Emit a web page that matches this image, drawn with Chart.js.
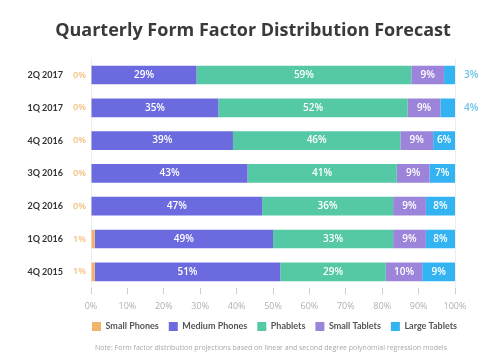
<!DOCTYPE html>
<html>
<head>
<meta charset="utf-8">
<script src="https://cdn.jsdelivr.net/npm/chart.js@4/dist/chart.umd.min.js"></script>
<style>
  html, body { margin: 0; padding: 0; background: #ffffff; }
  #wrap { width: 500px; height: 358px; position: relative; }
</style>
</head>
<body>
<div id="wrap"><canvas id="chart" width="500" height="358"></canvas></div>
<script>
// Quarter labels, top to bottom
const quarters = ['2Q 2017', '1Q 2017', '4Q 2016', '3Q 2016', '2Q 2016', '1Q 2016', '4Q 2015'];

// Share of each form factor (%)
const smallPhones  = [0, 0, 0, 0, 0, 1, 1];
const mediumPhones = [29, 35, 39, 43, 47, 49, 51];
const phablets     = [59, 52, 46, 41, 36, 33, 29];
const smallTablets = [9, 9, 9, 9, 9, 9, 10];
const largeTablets = [3, 4, 6, 7, 8, 8, 9];

const seriesNames = ['Small Phones', 'Medium Phones', 'Phablets', 'Small Tablets', 'Large Tablets'];
const xTicks = [0, 10, 20, 30, 40, 50, 60, 70, 80, 90, 100];

const colors = ['#f2b36a', '#6b6bdf', '#55c8a6', '#9c84db', '#33b3f2'];
const font = "'Open Sans', sans-serif";
const font2 = "Lato, sans-serif";

// draws the % labels on / next to each bar segment
const barLabels = {
    id: 'barLabels',
    afterDatasetsDraw(chart) {
        const ctx = chart.ctx;
        const area = chart.chartArea;
        ctx.save();
        ctx.textBaseline = 'middle';
        chart.data.datasets.forEach((ds, i) => {
            const meta = chart.getDatasetMeta(i);
            meta.data.forEach((bar, j) => {
                const txt = ds.data[j] + '%';
                if (i === 0) {
                    ctx.font = '600 9px ' + font;
                    ctx.fillStyle = '#f0c07c';
                    ctx.textAlign = 'right';
                    ctx.fillText(txt, area.left - 5, bar.y);
                    return;
                }
                const w = Math.abs(bar.x - bar.base);
                ctx.font = '600 10px ' + font;
                if (w < 18) {
                    ctx.fillStyle = '#6cc3e8';
                    ctx.textAlign = 'left';
                    ctx.fillText(txt, bar.x + 9, bar.y);
                } else {
                    ctx.fillStyle = '#ffffff';
                    ctx.textAlign = 'center';
                    ctx.fillText(txt, (bar.x + bar.base) / 2, bar.y);
                }
            });
        });
        ctx.restore();
    }
};

// title and legend sit right of the canvas centre in the original
const boxShift = {
    id: 'boxShift',
    afterLayout(chart) {
        const t = chart.titleBlock, l = chart.legend;
        t.left += 25.5; t.right += 25.5;
        l.left += 47; l.right += 47;
        l.top -= 7; l.bottom -= 7;
    }
};

// footnote under the legend
const footNote = {
    id: 'footNote',
    afterDraw(chart) {
        const ctx = chart.ctx;
        ctx.save();
        ctx.font = '7px ' + font;
        ctx.fillStyle = '#a8a8a8';
        ctx.textAlign = 'center';
        ctx.textBaseline = 'middle';
        ctx.fillText('Note: Form factor distribution projections based on linear and second degree polynomial regression models', 271, 348);
        ctx.restore();
    }
};

const datasets = [smallPhones, mediumPhones, phablets, smallTablets, largeTablets].map((vals, i) => ({
    label: seriesNames[i],
    data: vals,
    backgroundColor: colors[i],
    borderWidth: 0,
    barPercentage: 0.57,
    categoryPercentage: 1
}));

new Chart(document.getElementById('chart'), {
    type: 'bar',
    data: { labels: quarters, datasets: datasets },
    options: {
        indexAxis: 'y',
        responsive: false,
        animation: false,
        layout: { padding: { top: 0, right: 45, bottom: 10, left: 0 } },
        scales: {
            x: {
                stacked: true,
                min: 0,
                max: 100,
                afterBuildTicks(scale) { scale.ticks = xTicks.map(v => ({ value: v })); },
                grid: {
                    color: c => (c.tick && (c.tick.value === 0 || c.tick.value === 100)) ? '#eeeeee' : 'rgba(0,0,0,0)',
                    tickColor: '#cccccc',
                    tickLength: 6
                },
                border: { display: false },
                ticks: {
                    callback: v => v + '%',
                    color: '#b0b0b0',
                    font: { family: font, size: 9 },
                    padding: 7,
                    maxRotation: 0
                }
            },
            y: {
                stacked: true,
                afterFit(scale) { scale.width = 91; },
                grid: { display: false, drawTicks: false },
                border: { display: false },
                ticks: {
                    color: '#333333',
                    font: { family: font2, size: 9, weight: 'bold' },
                    padding: 28
                }
            }
        },
        plugins: {
            title: {
                display: true,
                text: 'Quarterly Form Factor Distribution Forecast',
                color: '#3a3a3a',
                font: { family: font, size: 18, weight: 'bold' },
                padding: { top: 20, bottom: 17 }
            },
            legend: {
                position: 'bottom',
                labels: {
                    boxWidth: 9,
                    boxHeight: 9,
                    padding: 10,
                    color: '#555555',
                    font: { family: font2, size: 9, weight: 'bold' }
                }
            },
            tooltip: { enabled: false }
        }
    },
    plugins: [barLabels, boxShift, footNote]
});
</script>
</body>
</html>
